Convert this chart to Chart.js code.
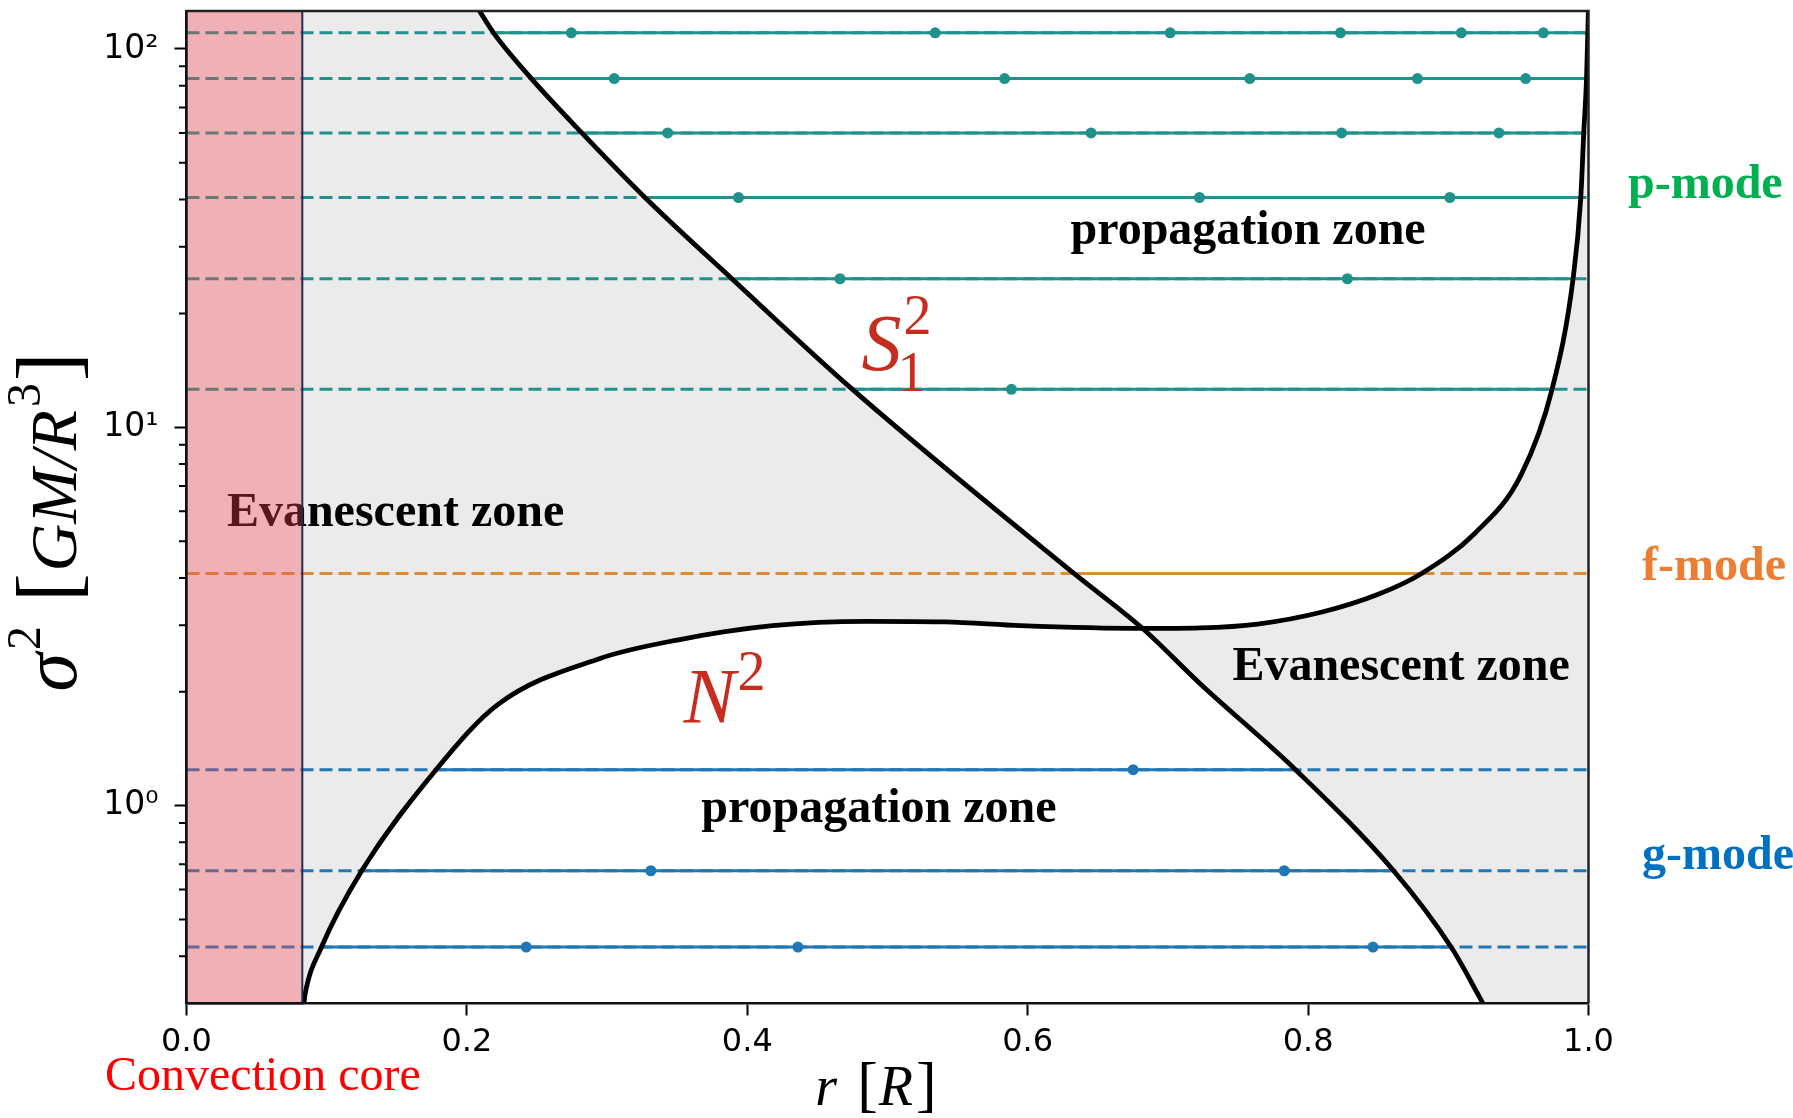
<!DOCTYPE html>
<html>
<head>
<meta charset="utf-8">
<title>Propagation diagram</title>
<script src="https://cdn.jsdelivr.net/npm/chart.js@4/dist/chart.umd.min.js"></script>
<style>
  html, body { margin: 0; padding: 0; background: #ffffff; overflow: hidden; }
  #wrap { width: 1793px; height: 1118px; }
</style>
</head>
<body>
<div id="wrap"><canvas id="chart" width="1793" height="1118"></canvas></div>
<script>
// ---- axes ----
const xTicks = [0, 0.2, 0.4, 0.6, 0.8, 1.0];
const xTickLabels = ['0.0', '0.2', '0.4', '0.6', '0.8', '1.0'];
const yTicks = [1, 10, 100];
const yTickLabels = ['10\u2070', '10\u00B9', '10\u00B2'];
const yMin = 0.318;
const yMax = 126;

// edge of the convective core, in r/R
const coreEdge = 0.0826;

// Lamb frequency S_1^2 (the first and last pairs run off the frame)
const lambRadius = [0.0, 0.10, 0.16, 0.209, 0.219, 0.246, 0.282, 0.327, 0.389, 0.475,
                    0.633, 0.682, 0.723, 0.791, 0.861, 0.902, 0.921, 0.95, 1.0];
const lambSq     = [3000, 600, 250, 126, 110.3, 83.5, 60.0, 40.5, 24.7, 12.6,
                    4.11, 2.94, 2.10, 1.245, 0.673, 0.423, 0.318, 0.2, 0.1];

// Brunt-Vaisala frequency N^2 (below the frame inside the convective core)
const bvRadius = [0.0, 0.0826, 0.0846, 0.0963, 0.125, 0.178, 0.222, 0.295, 0.350, 0.418,
                  0.486, 0.541, 0.595, 0.682, 0.723, 0.764, 0.810, 0.850, 0.881, 0.919,
                  0.952, 0.974, 0.989, 0.9945, 0.9966, 0.9986, 1.0];
const bvSq     = [0.28, 0.28, 0.318, 0.423, 0.673, 1.245, 1.85, 2.45, 2.74, 2.99,
                  3.07, 3.06, 2.99, 2.94, 2.95, 3.02, 3.25, 3.62, 4.11, 5.25,
                  7.5, 12.6, 24.7, 40.5, 60.0, 83.5, 130];

// p modes: eigenfrequency, turning points, nodes
const pModeSigma2 = [110.3, 83.5, 60.0, 40.5, 24.7, 12.6];
const pModeInner  = [0.219, 0.246, 0.282, 0.327, 0.389, 0.475];
const pModeOuter  = [0.9995, 0.9986, 0.9966, 0.9945, 0.989, 0.974];
const pModeNodes  = [
  [0.2745, 0.534, 0.7016, 0.8231, 0.9093, 0.9678],
  [0.3051, 0.5835, 0.7584, 0.878, 0.9552],
  [0.3432, 0.6452, 0.8239, 0.9361],
  [0.3937, 0.7225, 0.9011],
  [0.4661, 0.828],
  [0.5884]
];

// f mode
const fModeSigma2 = [4.11];
const fModeInner  = [0.633];
const fModeOuter  = [0.881];
const fModeNodes  = [[]];

// g modes
const gModeSigma2 = [1.245, 0.673, 0.423];
const gModeInner  = [0.178, 0.125, 0.0963];
const gModeOuter  = [0.791, 0.861, 0.902];
const gModeNodes  = [[0.6752], [0.3312, 0.783], [0.2423, 0.4361, 0.8463]];

// ---- styling ----
const P_COLOR = '#21918c';
const F_COLOR = '#dc8c32';
const G_COLOR = '#1f77b4';
const CURVE_COLOR = '#000000';
const ZONE_GREY = '#ebebeb';
const LABEL_RED = '#c62d1f';
const SERIF = '"Liberation Serif", "Times New Roman", serif';

const toXY = (xs, ys) => xs.map((x, i) => ({ x: x, y: ys[i] }));

function modeDatasets(sigma2, inner, outer, nodes, color) {
  const sets = [];
  sigma2.forEach((s, i) => {
    // evanescent part: dashed over the whole radius
    sets.push({
      data: [{ x: 0, y: s }, { x: 1, y: s }],
      borderColor: color, borderWidth: 3, borderDash: [13, 6],
      pointRadius: 0, fill: false, order: 3
    });
    // propagating part: solid between the turning points
    sets.push({
      data: [{ x: inner[i], y: s }, { x: outer[i], y: s }],
      borderColor: color, borderWidth: 3,
      pointRadius: 0, fill: false, order: 2
    });
    if (nodes[i].length) {
      sets.push({
        data: nodes[i].map(r => ({ x: r, y: s })),
        showLine: false, pointRadius: 5.5, pointHoverRadius: 5.5,
        pointBackgroundColor: color, pointBorderWidth: 0, order: 1
      });
    }
  });
  return sets;
}

const datasets = [
  {
    label: 'S1^2',
    data: toXY(lambRadius, lambSq),
    borderColor: CURVE_COLOR, borderWidth: 4.8,
    cubicInterpolationMode: 'monotone',
    pointRadius: 0, fill: false, order: 0
  },
  {
    label: 'N^2',
    data: toXY(bvRadius, bvSq),
    borderColor: CURVE_COLOR, borderWidth: 4.8,
    cubicInterpolationMode: 'monotone',
    pointRadius: 0, fill: '-1', backgroundColor: ZONE_GREY, order: 0
  },
  ...modeDatasets(pModeSigma2, pModeInner, pModeOuter, pModeNodes, P_COLOR),
  ...modeDatasets(fModeSigma2, fModeInner, fModeOuter, fModeNodes, F_COLOR),
  ...modeDatasets(gModeSigma2, gModeInner, gModeOuter, gModeNodes, G_COLOR)
];

// zone names placed in data coordinates (centre r, baseline sigma^2)
const zoneNotes = [
  { text: 'propagation zone', r: 0.7572, s: 30.6 },
  { text: 'Evanescent zone',  r: 0.1491, s: 5.47 },
  { text: 'Evanescent zone',  r: 0.8663, s: 2.15 },
  { text: 'propagation zone', r: 0.4939, s: 0.903 }
];

// mode family names right of the frame
const familyNotes = [
  { text: 'p-mode', color: '#00b050', dx: 39.5, s: 40.3 },
  { text: 'f-mode', color: '#ed7d31', dx: 53.5, s: 3.95 },
  { text: 'g-mode', color: '#0070c0', dx: 53.5, s: 0.681 }
];

function drawPieces(ctx, pieces, startX, baseY) {
  let px = startX;
  pieces.forEach(p => {
    ctx.font = p.font;
    px += p.gap || 0;
    ctx.fillText(p.t, px, baseY + (p.dy || 0));
    px += ctx.measureText(p.t).width;
  });
}
function piecesWidth(ctx, pieces) {
  let w = 0;
  pieces.forEach(p => { ctx.font = p.font; w += (p.gap || 0) + ctx.measureText(p.t).width; });
  return w;
}

const decor = {
  id: 'decor',
  afterDatasetsDraw(chart) {
    const { ctx, chartArea: a, scales: { x, y } } = chart;
    ctx.save();
    ctx.textBaseline = 'alphabetic';

    // zone names
    ctx.fillStyle = '#000';
    ctx.font = 'bold 48px ' + SERIF;
    ctx.textAlign = 'center';
    zoneNotes.forEach(z => ctx.fillText(z.text, x.getPixelForValue(z.r), y.getPixelForValue(z.s)));

    // curve names
    ctx.textAlign = 'left';
    ctx.fillStyle = LABEL_RED;
    const sx = x.getPixelForValue(0.4815), sy = y.getPixelForValue(14.2);
    ctx.font = 'italic 80px ' + SERIF;
    ctx.fillText('S', sx, sy);
    const sw = ctx.measureText('S').width;
    ctx.font = '56px ' + SERIF;
    ctx.fillText('2', sx + sw + 2, sy - 36);
    ctx.fillText('1', sx + sw - 4, sy + 21);

    const nx = x.getPixelForValue(0.3545), ny = y.getPixelForValue(1.66);
    ctx.font = 'italic 78px ' + SERIF;
    ctx.fillText('N', nx, ny);
    const nw = ctx.measureText('N').width;
    ctx.font = '56px ' + SERIF;
    ctx.fillText('2', nx + nw + 2, ny - 32);

    // convective core, tinted over everything inside it
    const cx = x.getPixelForValue(coreEdge);
    ctx.fillStyle = 'rgba(245, 70, 80, 0.35)';
    ctx.fillRect(a.left, a.top, cx - a.left, a.bottom - a.top);
    ctx.strokeStyle = '#1f2d55';
    ctx.lineWidth = 2;
    ctx.strokeRect(a.left, a.top, cx - a.left, a.bottom - a.top);
    ctx.restore();
  },
  afterDraw(chart) {
    const { ctx, chartArea: a, scales: { x, y } } = chart;
    ctx.save();

    // minor ticks of the log axis
    ctx.strokeStyle = '#000';
    ctx.lineWidth = 2;
    ctx.beginPath();
    for (let k = -1; k <= 2; k++) {
      for (let m = 2; m <= 9; m++) {
        const v = m * Math.pow(10, k);
        if (v <= yMin || v >= yMax) continue;
        const py = y.getPixelForValue(v);
        ctx.moveTo(a.left, py);
        ctx.lineTo(a.left - 7.5, py);
      }
    }
    ctx.stroke();

    // top and right spines
    ctx.strokeStyle = '#222';
    ctx.lineWidth = 2.5;
    ctx.beginPath();
    ctx.moveTo(a.left, a.top);
    ctx.lineTo(a.right, a.top);
    ctx.lineTo(a.right, a.bottom);
    ctx.stroke();

    ctx.textBaseline = 'alphabetic';
    ctx.textAlign = 'left';

    // mode family names
    ctx.font = 'bold 48px ' + SERIF;
    familyNotes.forEach(f => {
      ctx.fillStyle = f.color;
      ctx.fillText(f.text, a.right + f.dx, y.getPixelForValue(f.s));
    });

    // core caption
    ctx.fillStyle = '#ff0000';
    ctx.font = '48px ' + SERIF;
    ctx.fillText('Convection core', 105, 1090);

    // x title: r [R]
    ctx.fillStyle = '#000';
    const xPieces = [
      { t: 'r', font: 'italic 56px ' + SERIF },
      { t: '[', font: '62px ' + SERIF, gap: 20 },
      { t: 'R', font: 'italic 56px ' + SERIF, gap: 1 },
      { t: ']', font: '62px ' + SERIF, gap: 3 }
    ];
    const xw = piecesWidth(ctx, xPieces);
    drawPieces(ctx, xPieces, 876 - xw / 2, 1105);

    // y title: sigma^2 [GM/R^3]
    const yPieces = [
      { t: '\u03C3', font: 'italic 78px ' + SERIF },
      { t: '2', font: '48px ' + SERIF, gap: 3, dy: -36 },
      { t: '[', font: '86px ' + SERIF, gap: 24 },
      { t: 'GM/R', font: 'italic 66px ' + SERIF, gap: 2 },
      { t: '3', font: '48px ' + SERIF, gap: 3, dy: -36 },
      { t: ']', font: '86px ' + SERIF, gap: 2 }
    ];
    const yw = piecesWidth(ctx, yPieces);
    ctx.translate(76, 522);
    ctx.rotate(-Math.PI / 2);
    drawPieces(ctx, yPieces, -yw / 2, 0);
    ctx.restore();
  }
};

new Chart(document.getElementById('chart'), {
  type: 'line',
  data: { datasets: datasets },
  options: {
    responsive: false,
    devicePixelRatio: 1,
    animation: false,
    events: [],
    layout: { padding: { left: 0, right: 204.5, top: 11, bottom: 0 } },
    plugins: {
      legend: { display: false },
      tooltip: { enabled: false },
      filler: { drawTime: 'beforeDatasetsDraw', propagate: false }
    },
    scales: {
      x: {
        type: 'linear',
        min: 0, max: 1,
        afterBuildTicks: s => { s.ticks = xTicks.map(v => ({ value: v })); },
        afterFit: s => { s.height = 114.5; s.paddingLeft = 0; s.paddingRight = 0; },
        ticks: {
          callback: (v, i) => xTickLabels[i],
          color: '#000',
          font: { family: 'DejaVu Sans', size: 32 },
          padding: 8,
          maxRotation: 0,
          autoSkip: false
        },
        grid: { drawOnChartArea: false, drawTicks: true, tickLength: 12, tickWidth: 2, tickColor: '#000' },
        border: { display: true, color: '#111', width: 2.5, z: 1 }
      },
      y: {
        type: 'logarithmic',
        min: yMin, max: yMax,
        afterBuildTicks: s => { s.ticks = yTicks.map(v => ({ value: v })); },
        afterFit: s => { s.width = 186.5; s.paddingTop = 0; s.paddingBottom = 0; },
        ticks: {
          callback: (v, i) => yTickLabels[i],
          color: '#000',
          font: { family: 'DejaVu Sans', size: 33 },
          padding: 16,
          autoSkip: false
        },
        grid: { drawOnChartArea: false, drawTicks: true, tickLength: 12, tickWidth: 2, tickColor: '#000' },
        border: { display: true, color: '#111', width: 2.5, z: 1 }
      }
    }
  },
  plugins: [decor]
});
</script>
</body>
</html>
